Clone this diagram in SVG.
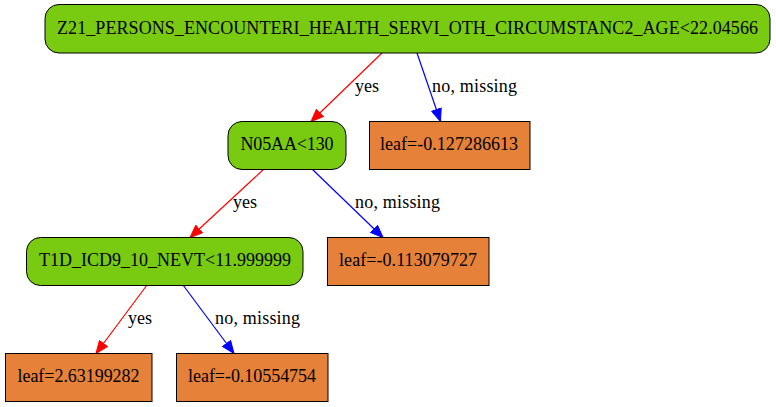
<svg xmlns="http://www.w3.org/2000/svg" width="776" height="407" viewBox="0 0 776 407">
<style>
.bg{fill:#ffffff}
.cond{fill:#78cb10;stroke:#000;stroke-width:1}
.leaf{fill:#e58139;stroke:#000;stroke-width:1}
text{font-family:'Liberation Serif','DejaVu Serif',serif;font-size:18px;fill:#000}
.nt{text-anchor:middle}
.yes{stroke:#ff0000;stroke-width:1.2;fill:none}
.no{stroke:#0000ff;stroke-width:1.2;fill:none}
</style>
<defs>
<marker id="ar" markerUnits="userSpaceOnUse" markerWidth="14" markerHeight="11" refX="13" refY="5.5" orient="auto"><path d="M0.5,0.5 L13,5.5 L0.5,10.5 z" fill="#ff0000" stroke="#ff0000"/></marker>
<marker id="ab" markerUnits="userSpaceOnUse" markerWidth="14" markerHeight="11" refX="13" refY="5.5" orient="auto"><path d="M0.5,0.5 L13,5.5 L0.5,10.5 z" fill="#0000ff" stroke="#0000ff"/></marker>
</defs>
<rect class="bg" x="0" y="0" width="776" height="407"/>
<g id="edges">
<line class="yes" x1="382" y1="53" x2="311" y2="121.5" marker-end="url(#ar)"/>
<text x="355" y="92" textLength="24">yes</text>
<line class="no" x1="417" y1="53" x2="440.5" y2="121.5" marker-end="url(#ab)"/>
<text x="432" y="92" textLength="85">no, missing</text>
<line class="yes" x1="264" y1="169" x2="190" y2="237.5" marker-end="url(#ar)"/>
<text x="233" y="208" textLength="24">yes</text>
<line class="no" x1="312" y1="169" x2="383" y2="237.5" marker-end="url(#ab)"/>
<text x="355" y="208" textLength="85">no, missing</text>
<line class="yes" x1="147" y1="285" x2="96" y2="353.5" marker-end="url(#ar)"/>
<text x="128" y="324" textLength="24">yes</text>
<line class="no" x1="183" y1="285" x2="234" y2="353.5" marker-end="url(#ab)"/>
<text x="215" y="324" textLength="85">no, missing</text>
</g>
<g id="n0">
<rect class="cond" x="45" y="4.5" width="725" height="48.5" rx="14" ry="14"/>
<text class="nt" x="407.5" y="34" textLength="701">Z21_PERSONS_ENCOUNTERI_HEALTH_SERVI_OTH_CIRCUMSTANC2_AGE&lt;22.04566</text>
</g>
<g id="n1">
<rect class="cond" x="228" y="121.5" width="118" height="48" rx="14" ry="14"/>
<text class="nt" x="287" y="150" textLength="93">N05AA&lt;130</text>
</g>
<g id="n2">
<rect class="leaf" x="369.5" y="121.5" width="160.5" height="48"/>
<text class="nt" x="449" y="150" textLength="138">leaf=-0.127286613</text>
</g>
<g id="n3">
<rect class="cond" x="26.5" y="237.5" width="276.5" height="48" rx="14" ry="14"/>
<text class="nt" x="165" y="266" textLength="252">T1D_ICD9_10_NEVT&lt;11.999999</text>
</g>
<g id="n4">
<rect class="leaf" x="327.5" y="237.5" width="161.5" height="48"/>
<text class="nt" x="408" y="266" textLength="138">leaf=-0.113079727</text>
</g>
<g id="n5">
<rect class="leaf" x="5.5" y="353.5" width="146.5" height="48"/>
<text class="nt" x="78.5" y="382" textLength="122">leaf=2.63199282</text>
</g>
<g id="n6">
<rect class="leaf" x="176.5" y="353.5" width="151.5" height="48"/>
<text class="nt" x="252" y="382" textLength="128">leaf=-0.10554754</text>
</g>
</svg>
